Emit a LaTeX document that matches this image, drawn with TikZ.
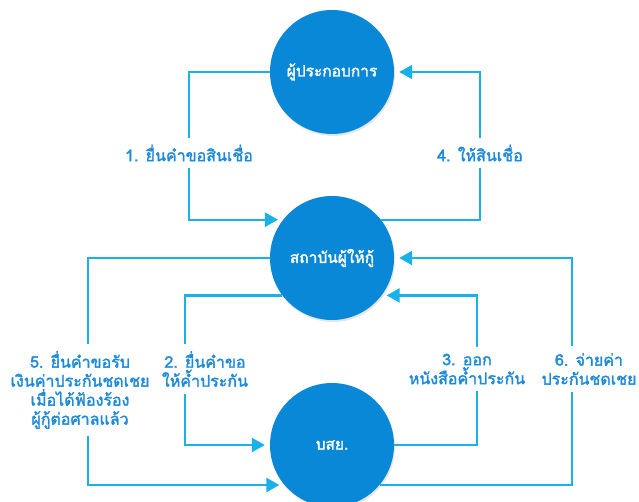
\documentclass[tikz,border=0pt]{standalone}
\usepackage{fontspec}
\newfontfamily\thaifont[Script=Thai, FakeBold=2]{Loma}
\usetikzlibrary{arrows.meta,shadows}
\definecolor{circblue}{HTML}{0A88D8}
\definecolor{linecyan}{HTML}{1AB0E8}
\definecolor{textblue}{HTML}{1E8ADA}
\tikzset{
  party/.style={circle, fill=circblue, minimum size=124pt, inner sep=0pt,
    text=white, font=\thaifont\fontsize{15.5}{17}\selectfont,
    drop shadow={opacity=0.2, shadow xshift=1pt, shadow yshift=-2pt}},
  steplabel/.style={align=center, text=textblue, inner sep=7pt,
    font=\thaifont\fontsize{16}{19}\selectfont},
  link/.style={draw=linecyan, line width=2.4pt},
  flow/.style={link, -{Triangle[length=13pt,width=14pt]}, shorten >=5pt}
}
\begin{document}
\begin{tikzpicture}[x=1pt, y=-1pt]
  \useasboundingbox (0,0) rectangle (639,502);

  % the three parties
  \node[party] (lender) at (332,72) {ผู้ประกอบการ};
  \node[party] (bank) at (332,258) {สถาบันผู้ให้กู้};
  \node[party] (tcg) at (332,445) {บสย.};

  % step labels
  \node[steplabel] (s1) at (189,153) {1. ยื่นคำขอสินเชื่อ};
  \node[steplabel] (s4) at (480,153) {4. ให้สินเชื่อ};
  \node[steplabel] (s2) at (205,369) {2. ยื่นคำขอ\\ให้ค้ำประกัน};
  \node[steplabel] (s3) at (467,369) {3. ออก\\หนังสือค้ำประกัน};
  \node[steplabel] (s6) at (589,369) {6. จ่ายค่า\\ประกันชดเชย};
  \node[steplabel] (s5) at (80,390) {5. ยื่นคำขอรับ\\เงินค่าประกันชดเชย\\เมื่อได้ฟ้องร้อง\\ผู้กู้ต่อศาลแล้ว};

  % 1 and 4: between borrower and bank
  \draw[link] (lender.west) -| (s1.north); % up to borrower
  \draw[flow] (s1.south) |- (bank.142);
  \draw[link] (bank.38) -| (s4.south);
  \draw[flow] (s4.north) |- (lender.east);

  % 2 and 3: between bank and TCG
  \draw[link] (bank.217) -| ([xshift=-20pt]s2.north);
  \draw[flow] ([xshift=-20pt]s2.south) |- (tcg.west);
  \draw[link] (tcg.east) -| ([xshift=10pt]s3.south);
  \draw[flow] ([xshift=10pt]s3.north) |- (bank.323);

  % 5 and 6: claim and payout
  \draw[link] (bank.west) -| ([xshift=8pt]s5.north);
  \draw[flow] ([xshift=8pt]s5.south) |- (tcg.220);
  \draw[link] (tcg.320) -| ([xshift=-17pt]s6.south);
  \draw[flow] ([xshift=-17pt]s6.north) |- (bank.east);
\end{tikzpicture}
\end{document}
